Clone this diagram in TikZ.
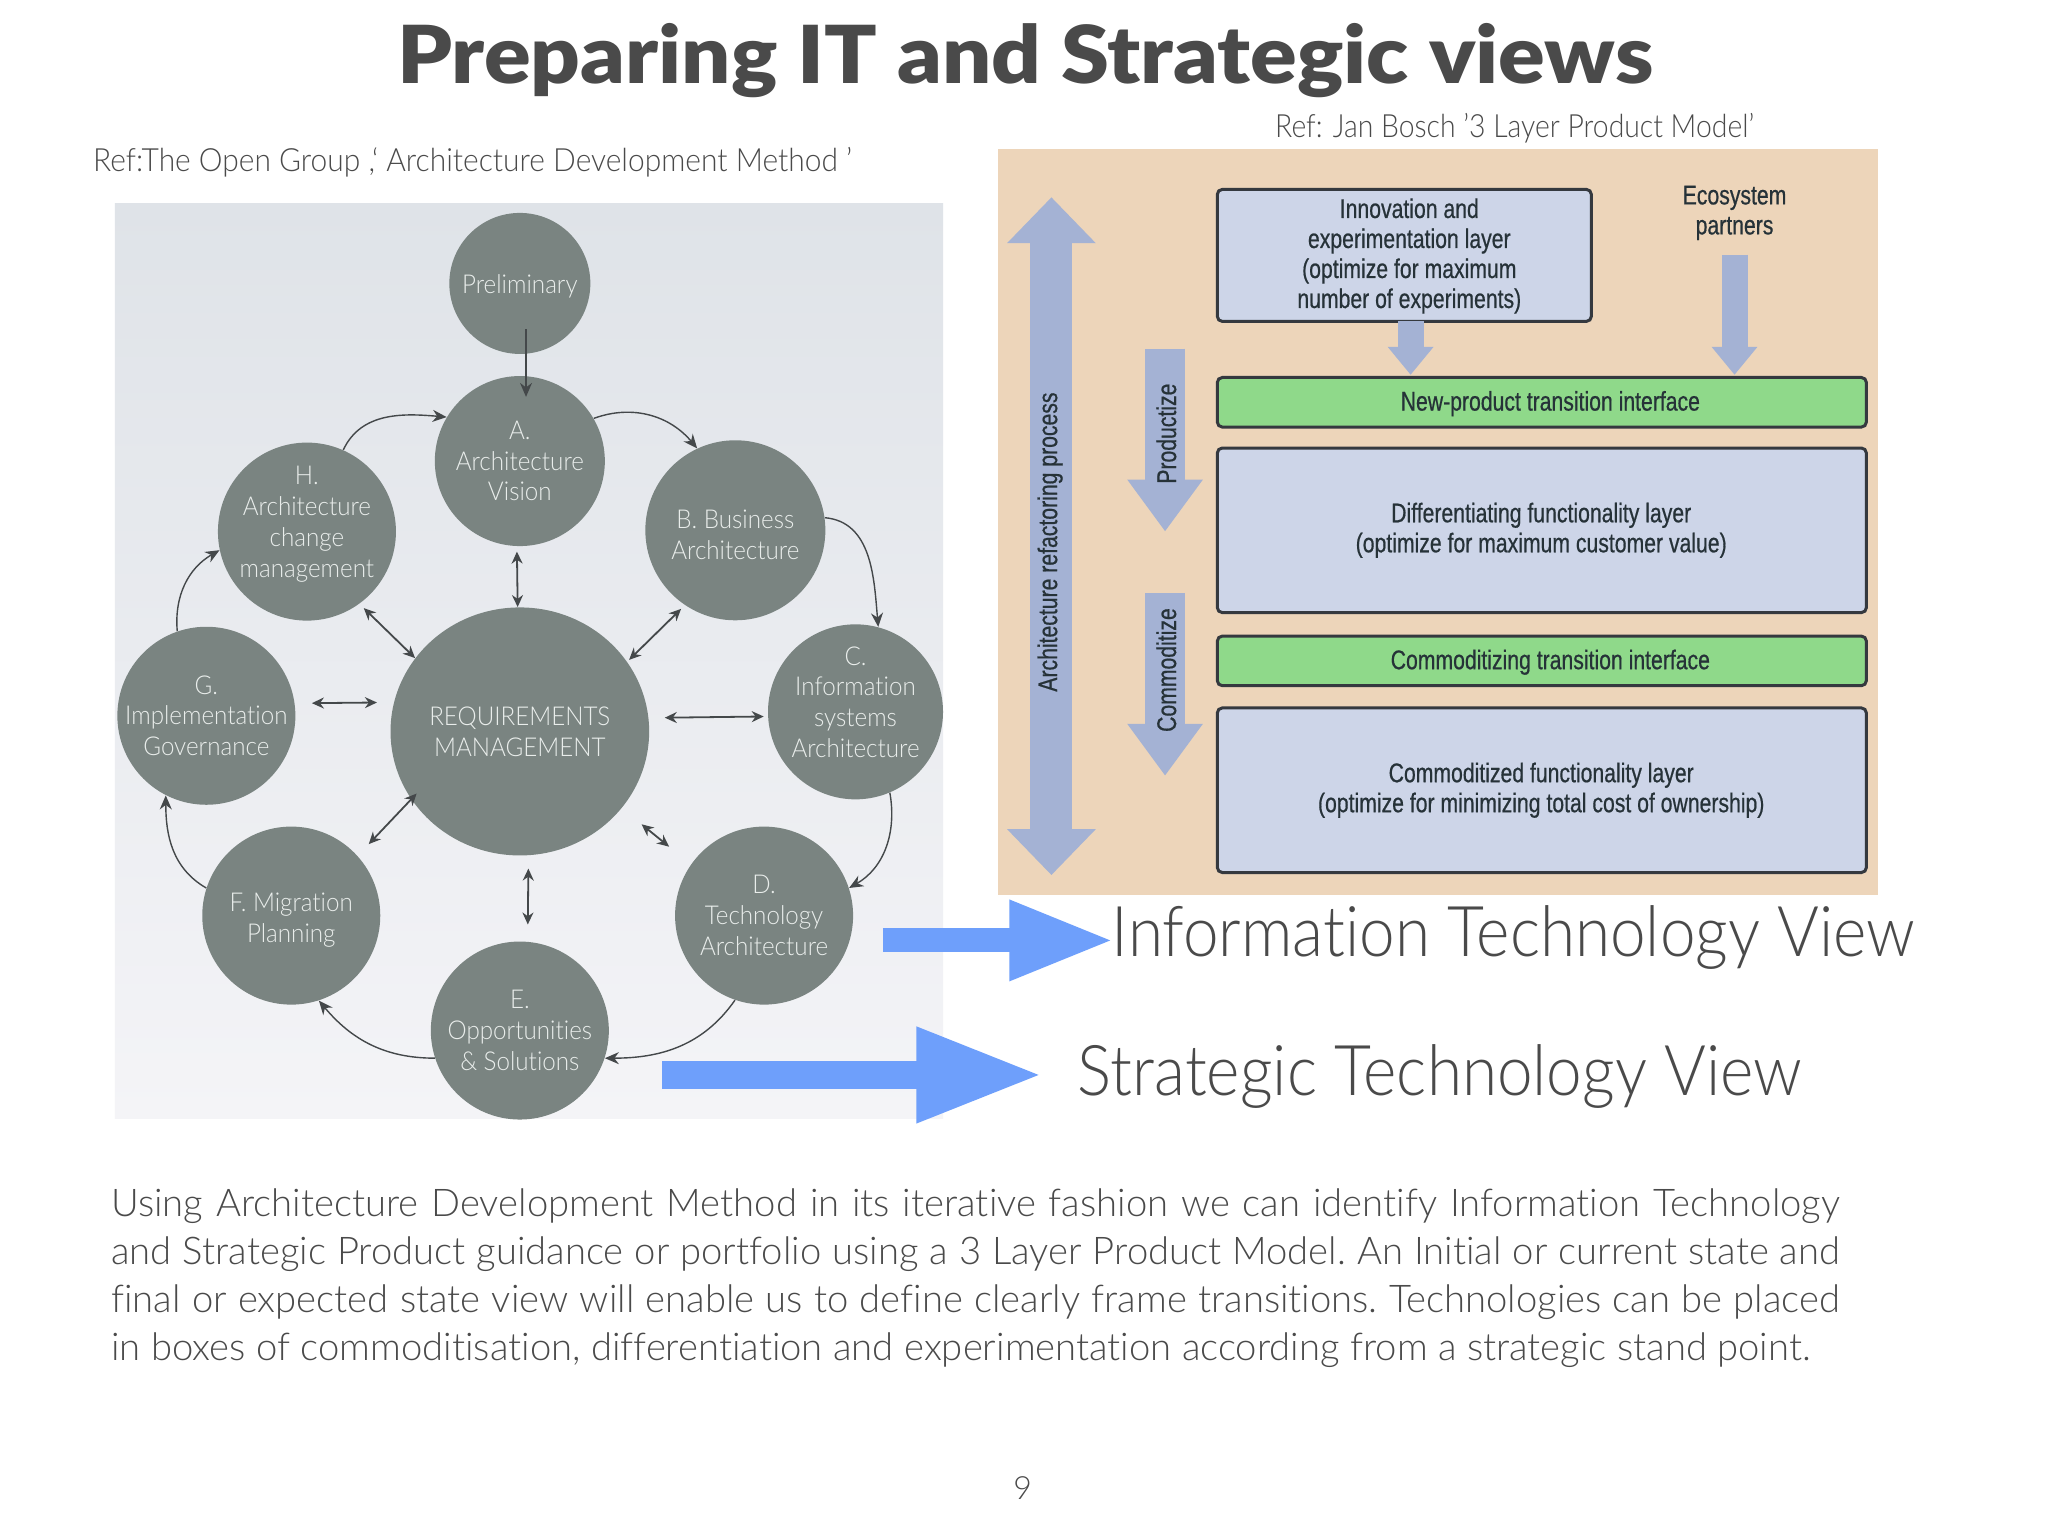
\documentclass[tikz,border=0pt]{standalone}
\usepackage{fontspec}
\usetikzlibrary{arrows.meta,shapes.geometric,calc}
\setmainfont[Ligatures=NoCommon]{Lato Light}
\newfontfamily\titlef[FakeStretch=1.083]{Lato Black}
\newfontfamily\cond[FakeStretch=0.785,FakeBold=0.6]{Liberation Sans}
\newfontfamily\circf[FakeStretch=0.93,Ligatures=NoCommon]{Lato Light}
\newfontfamily\viewf[FakeStretch=0.912,Ligatures=NoCommon]{Lato Light}
\newfontfamily\refLf[FakeStretch=0.936,Ligatures=NoCommon]{Lato Light}
\newfontfamily\refRf[FakeStretch=0.886,Ligatures=NoCommon]{Lato Light}
\definecolor{circ}{HTML}{7A8481}
\definecolor{circtxt}{HTML}{E9EDEB}
\definecolor{txt}{HTML}{4A4A4A}
\definecolor{dk}{HTML}{44484A}
\definecolor{peach}{HTML}{EDD5BA}
\definecolor{lay}{HTML}{CDD5E8}
\definecolor{grn}{HTML}{8FD98A}
\definecolor{bord}{HTML}{35393F}
\definecolor{blk}{HTML}{A4B2D4}
\definecolor{blu}{HTML}{6E9FFB}
\definecolor{ltxt}{HTML}{263238}
\definecolor{panT}{HTML}{DFE3E8}
\definecolor{panB}{HTML}{F4F4F7}
\newcommand{\lowr}{\rule{0pt}{13.5pt}}
\tikzset{
  x=0.653pt,y=-0.653pt,
  phase/.style={circle,fill=circ,text=circtxt,inner sep=-16pt,align=center,font=\circf\fontsize{13pt}{15.4pt}\selectfont,execute at begin node=\rule{0pt}{12pt}},
  cyc/.style={draw=dk,line width=0.7pt,-{Stealth[length=7pt,width=6pt]}},
  rq/.style={draw=dk,line width=0.9pt,{Stealth[length=6pt,width=5.5pt]}-{Stealth[length=6pt,width=5.5pt]}},
  layer/.style={draw=bord,line width=1.5pt,outer sep=0pt,rounded corners=2.5pt,fill=lay,text=ltxt,align=center,font=\cond\fontsize{13.5pt}{15pt}\selectfont},
  iface/.style={layer,fill=grn},
  lbl/.style={text=ltxt,align=center,font=\cond\fontsize{13.5pt}{15pt}\selectfont},
  reftxt/.style={text=txt,font=\fontsize{16pt}{18pt}\selectfont,anchor=west,inner sep=0pt},
  viewtxt/.style={text=txt,font=\viewf\fontsize{35pt}{40pt}\selectfont,anchor=west,inner sep=0pt},
}
\begin{document}
\begin{tikzpicture}
\useasboundingbox (0,0) rectangle (1568,1176);
\fill[white] (0,0) rectangle (1568,1176);
\node[inner sep=0pt,text=txt,font=\titlef\fontsize{40pt}{44pt}\selectfont] (title) at (785,46) {Preparing IT and Strategic views};
\node[reftxt,font=\refLf\fontsize{16pt}{18pt}\selectfont] (refL) at (71,124) {Ref:The Open Group ,‘ Architecture Development Method ’};
\node[reftxt,font=\refRf\fontsize{16pt}{18pt}\selectfont] (refR) at (976,98) {Ref: Jan Bosch ’3 Layer Product Model’};
% left panel
\shade[top color=panT,bottom color=panB] (88,156) rectangle (722,856);
\node[phase,minimum size=70.5pt] (P) at (398,217) {Preliminary};
\node[phase,minimum size=85pt] (A) at (398,353) {A.\\Architecture\\Vision};
\node[phase,minimum size=90pt] (B) at (563,406) {\lowr B. Business\\Architecture};
\node[phase,minimum size=87.5pt] (C) at (655,545) {C.\\Information\\systems\\Architecture\\[-5.6pt]};
\node[phase,minimum size=89pt] (D) at (585,701) {D.\\Technology\\Architecture};
\node[phase,minimum size=89pt] (E) at (398,789) {E.\\Opportunities\\\& Solutions};
\node[phase,minimum size=89pt] (F) at (223,701) {\lowr F. Migration\\Planning};
\node[phase,minimum size=89pt] (G) at (158,548) {G.\\Implementation\\Governance};
\node[phase,minimum size=89pt] (H) at (235,407) {H.\\Architecture\\change\\management\\[-5.6pt]};
\node[ellipse,fill=circ,text=circtxt,inner sep=-20pt,align=center,minimum width=129.3pt,minimum height=124pt,font=\circf\fontsize{13pt}{15.4pt}\selectfont,execute at begin node=\rule{0pt}{12pt}] (R) at (398,560) {REQUIREMENTS\\MANAGEMENT};
% cycle
\draw[cyc,shorten <=-19*0.653pt,shorten >=-16*0.653pt] (P.-85) -- (A.85 -| P.-85);
\draw[cyc] (H.66) to[out=65,in=175] (A.149);
\draw[cyc] (A.30) to[out=20,in=130] (B.115);
\draw[cyc] (B.8) to[out=-5,in=95] (C.75);
\draw[cyc] (C.-67) to[out=-80,in=30] (D.18);
\draw[cyc] (D.-109) to[out=-125,in=0] (E.-18);
\draw[cyc] (E.198) to[out=180,in=-50] (F.-72);
\draw[cyc] (F.162) to[out=150,in=-90] (G.-117);
\draw[cyc] (G.109) to[out=95,in=210] (H.192);
% requirement links
\draw[rq,shorten <=2.6pt] (A.-92) -- (R.91);
\draw[rq,shorten <=3pt] (H.-54) -- (R.145.5);
\draw[rq,shorten <=2.6pt,shorten >=1.3pt] (B.-124) -- (R.33.5);
\draw[rq,shorten <=2pt,shorten >=8pt] (C.183.4) -- (R.6.3);
\draw[rq,shorten <=14pt,shorten >=12.7pt] (D.145.4) -- (R.-37.4);
\draw[rq,shorten <=8.5pt,shorten >=6.5pt] (E.85) -- (R.-86.2);
\draw[rq,shorten <=8pt,shorten >=-4pt] (F.42.5) -- (R.212);
\draw[rq,shorten <=8.5pt,shorten >=8.4pt] (G.8.5) -- (R.167.6);
% right panel
\fill[peach] (764,114) rectangle (1438,685);
\node[layer,minimum width=187pt,minimum height=66pt,anchor=north west] (L1) at (932,145) {};
\node[lbl] (L1t) at (1079,196) {Innovation and\\experimentation layer\\(optimize for maximum\\number of experiments)};
\node[iface,minimum width=324.5pt,minimum height=24.8pt,anchor=north west] (T1) at (932,289) {};
\node[lbl] (T1t) at (1187,309) {New-product transition interface};
\node[layer,minimum width=324.5pt,minimum height=82.3pt,anchor=north west] (L2) at (932,343) {};
\node[lbl] (L2t) at (1180,406) {Differentiating functionality layer\\(optimize for maximum customer value)};
\node[iface,minimum width=324.5pt,minimum height=24.8pt,anchor=north west] (T2) at (932,487) {};
\node[lbl] (T2t) at (1187,507) {Commoditizing transition interface};
\node[layer,minimum width=324.5pt,minimum height=82.3pt,anchor=north west] (L3) at (932,542) {};
\node[lbl] (L3t) at (1180,605) {Commoditized functionality layer\\(optimize for minimizing total cost of ownership)};
\node[lbl] (eco) at (1328,163) {Ecosystem\\partners};
\coordinate (ecoS) at (1328,195);
\coordinate (ecoE) at (1328,287);
\coordinate (L1o) at (1080,246);
\coordinate (L1e) at (1080,287);
\draw[blk,line width=13pt,-{Triangle[length=14pt,width=22pt]}] (L1o) -- (L1e);
\draw[blk,line width=13pt,-{Triangle[length=14pt,width=22pt]}] (ecoS) -- (ecoE);
\coordinate (a1) at (805,151);
\coordinate (a2) at (805,670);
\draw[blk,line width=21pt,{Triangle[length=23pt,width=43pt]}-{Triangle[length=23pt,width=43pt]}] (a1) -- (a2);
\node[lbl,rotate=90] (arch) at (804,415) {Architecture refactoring process};
\coordinate (p1) at (892,267);
\coordinate (p2) at (892,407);
\draw[blk,line width=20pt,-{Triangle[length=26pt,width=36pt]}] (p1) -- (p2);
\node[lbl,rotate=90] (prod) at (893,332) {Productize};
\coordinate (c1) at (892,454);
\coordinate (c2) at (892,594);
\draw[blk,line width=20pt,-{Triangle[length=26pt,width=36pt]}] (c1) -- (c2);
\node[lbl,rotate=90] (comm) at (893,513) {Commoditize};
% views
\node[viewtxt] (IT) at (851,718) {Information Technology View};
\node[viewtxt] (ST) at (825,824) {Strategic Technology View};
\coordinate (itS) at (676,720);
\coordinate (stS) at (507,823);
\draw[blu,line width=12pt,-{Triangle[length=52.6pt,width=37pt]},shorten >=-1.5pt] (itS) -- (itS -| IT.west);
\draw[blu,line width=14pt,-{Triangle[length=63.6pt,width=44pt]},shorten >=17pt] (stS) -- (stS -| ST.west);
% body
\frenchspacing
\node[text=txt,inner sep=0pt,anchor=north west,text width=864pt,align=justify,font=\fontsize{19.1pt}{24pt}\selectfont] (body) at (85,910) {Using Architecture Development Method in its iterative fashion we can identify Information Technology\linebreak and Strategic Product guidance or portfolio using a 3 Layer Product Model. An Initial or current state and\linebreak final or expected state view will enable us to define clearly frame transitions. Technologies can be placed\linebreak in boxes of commoditisation, differentiation and experimentation according from a strategic stand point.};
\node[text=txt,inner sep=0pt,font=\fontsize{16pt}{18pt}\selectfont] (pg) at (783,1139) {9};
\end{tikzpicture}
\end{document}
